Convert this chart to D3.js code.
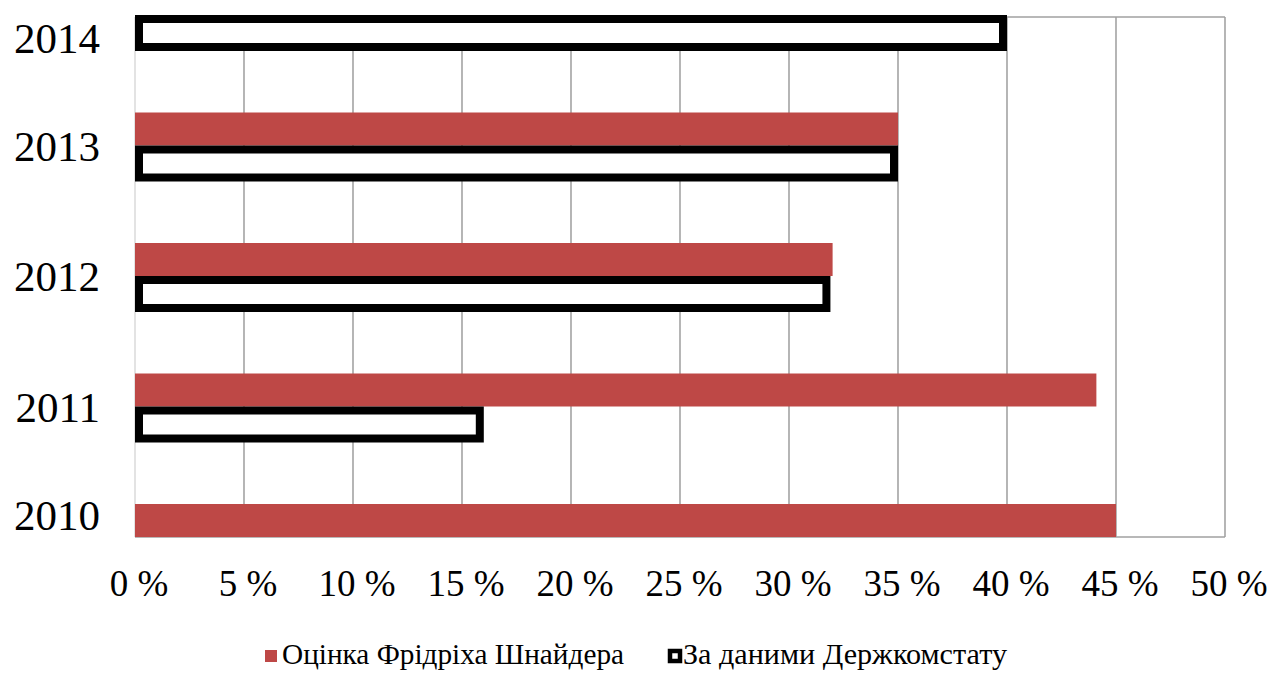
<!DOCTYPE html>
<html>
<head>
<meta charset="utf-8">
<script src="https://cdn.jsdelivr.net/npm/d3@7"></script>
<style>
  html, body { margin: 0; padding: 0; background: #fff; }
  svg { display: block; }
</style>
</head>
<body>
<script>
// ---- data ----
const years = ["2010", "2011", "2012", "2013", "2014"];
const schneider = [45, 44.1, 32, 35, null];      // Оцінка Фрідріха Шнайдера, %
const derzhkomstat = [null, 16, 31.9, 35, 40];    // За даними Держкомстату, %
const tickValues = [0, 5, 10, 15, 20, 25, 30, 35, 40, 45, 50];
const tickLabels = ["0 %", "5 %", "10 %", "15 %", "20 %", "25 %", "30 %", "35 %", "40 %", "45 %", "50 %"];
const seriesNames = ["Оцінка Фрідріха Шнайдера", "За даними Держкомстату"];

(function () {
const W = 1279, H = 673;
const pLeft = 135, pRight = 1225, pTop = 17, pBottom = 537;
const red = "#BE4846";
const serif = "'Liberation Serif', 'Times New Roman', serif";

const svg = d3.select("body").append("svg").attr("width", W).attr("height", H);
svg.append("rect").attr("width", W).attr("height", H).attr("fill", "#fff");

const x = d3.scaleLinear().domain([0, 50]).range([pLeft, pRight]);
const y = d3.scalePoint().domain(years.slice().reverse()).range([15, pBottom]);

// grid
svg.append("g").selectAll("line").data(tickValues.filter(d => d > 0)).join("line")
  .attr("x1", d => x(d)).attr("x2", d => x(d))
  .attr("y1", pTop).attr("y2", pBottom)
  .attr("stroke", "#8e8e8e").attr("stroke-width", 1.3);
svg.append("line").attr("x1", pLeft).attr("x2", pRight).attr("y1", pTop).attr("y2", pTop)
  .attr("stroke", "#a0a0a0").attr("stroke-width", 1.3);
svg.append("line").attr("x1", pLeft).attr("x2", pRight).attr("y1", pBottom).attr("y2", pBottom)
  .attr("stroke", "#a0a0a0").attr("stroke-width", 1.3);
svg.append("line").attr("x1", x(0)).attr("x2", x(0)).attr("y1", pTop).attr("y2", pBottom)
  .attr("stroke", "#d4d4d4").attr("stroke-width", 1.3);

const redH = 33, outH = 36, sw = 8;

// red bars (above category point)
const redData = years.map((yr, i) => ({ yr, v: schneider[i] })).filter(d => d.v != null);
svg.append("g").selectAll("rect").data(redData).join("rect")
  .attr("x", x(0))
  .attr("y", d => y(d.yr) - redH)
  .attr("width", d => x(d.v) - x(0))
  .attr("height", redH)
  .attr("fill", red);

// outlined bars (below category point)
const outData = years.map((yr, i) => ({ yr, v: derzhkomstat[i] })).filter(d => d.v != null);
svg.append("g").selectAll("rect").data(outData).join("rect")
  .attr("x", x(0) + sw / 2)
  .attr("y", d => y(d.yr) + sw / 2)
  .attr("width", d => x(d.v) - x(0) - sw)
  .attr("height", outH - sw)
  .attr("fill", "#fff")
  .attr("stroke", "#000")
  .attr("stroke-width", sw);

// year labels
svg.append("g").selectAll("text").data(years).join("text")
  .attr("x", 100)
  .attr("y", d => Math.max(pTop + 21, Math.min(pBottom - 22, y(d))))
  .attr("dy", "0.35em")
  .attr("text-anchor", "end")
  .attr("font-family", serif)
  .attr("font-size", 43)
  .attr("fill", "#000")
  .text(d => d);

// x tick labels
svg.append("g").selectAll("text").data(tickValues).join("text")
  .attr("x", d => x(d) + 4)
  .attr("y", 596)
  .attr("text-anchor", "middle")
  .attr("font-family", serif)
  .attr("font-size", 37)
  .attr("fill", "#000")
  .text((d, i) => tickLabels[i]);

// legend
const lg = svg.append("g");
lg.append("rect").attr("x", 265).attr("y", 650).attr("width", 12).attr("height", 12).attr("fill", red);
lg.append("text").attr("x", 282).attr("y", 664)
  .attr("font-family", serif)
  .attr("font-size", 29).attr("fill", "#000")
  .attr("textLength", 342).attr("lengthAdjust", "spacingAndGlyphs")
  .text(seriesNames[0]);
lg.append("rect").attr("x", 670).attr("y", 651).attr("width", 10).attr("height", 10)
  .attr("fill", "#fff").attr("stroke", "#000").attr("stroke-width", 4.5);
lg.append("text").attr("x", 683).attr("y", 664)
  .attr("font-family", serif)
  .attr("font-size", 29).attr("fill", "#000")
  .attr("textLength", 324).attr("lengthAdjust", "spacingAndGlyphs")
  .text(seriesNames[1]);
})();
</script>
</body>
</html>
